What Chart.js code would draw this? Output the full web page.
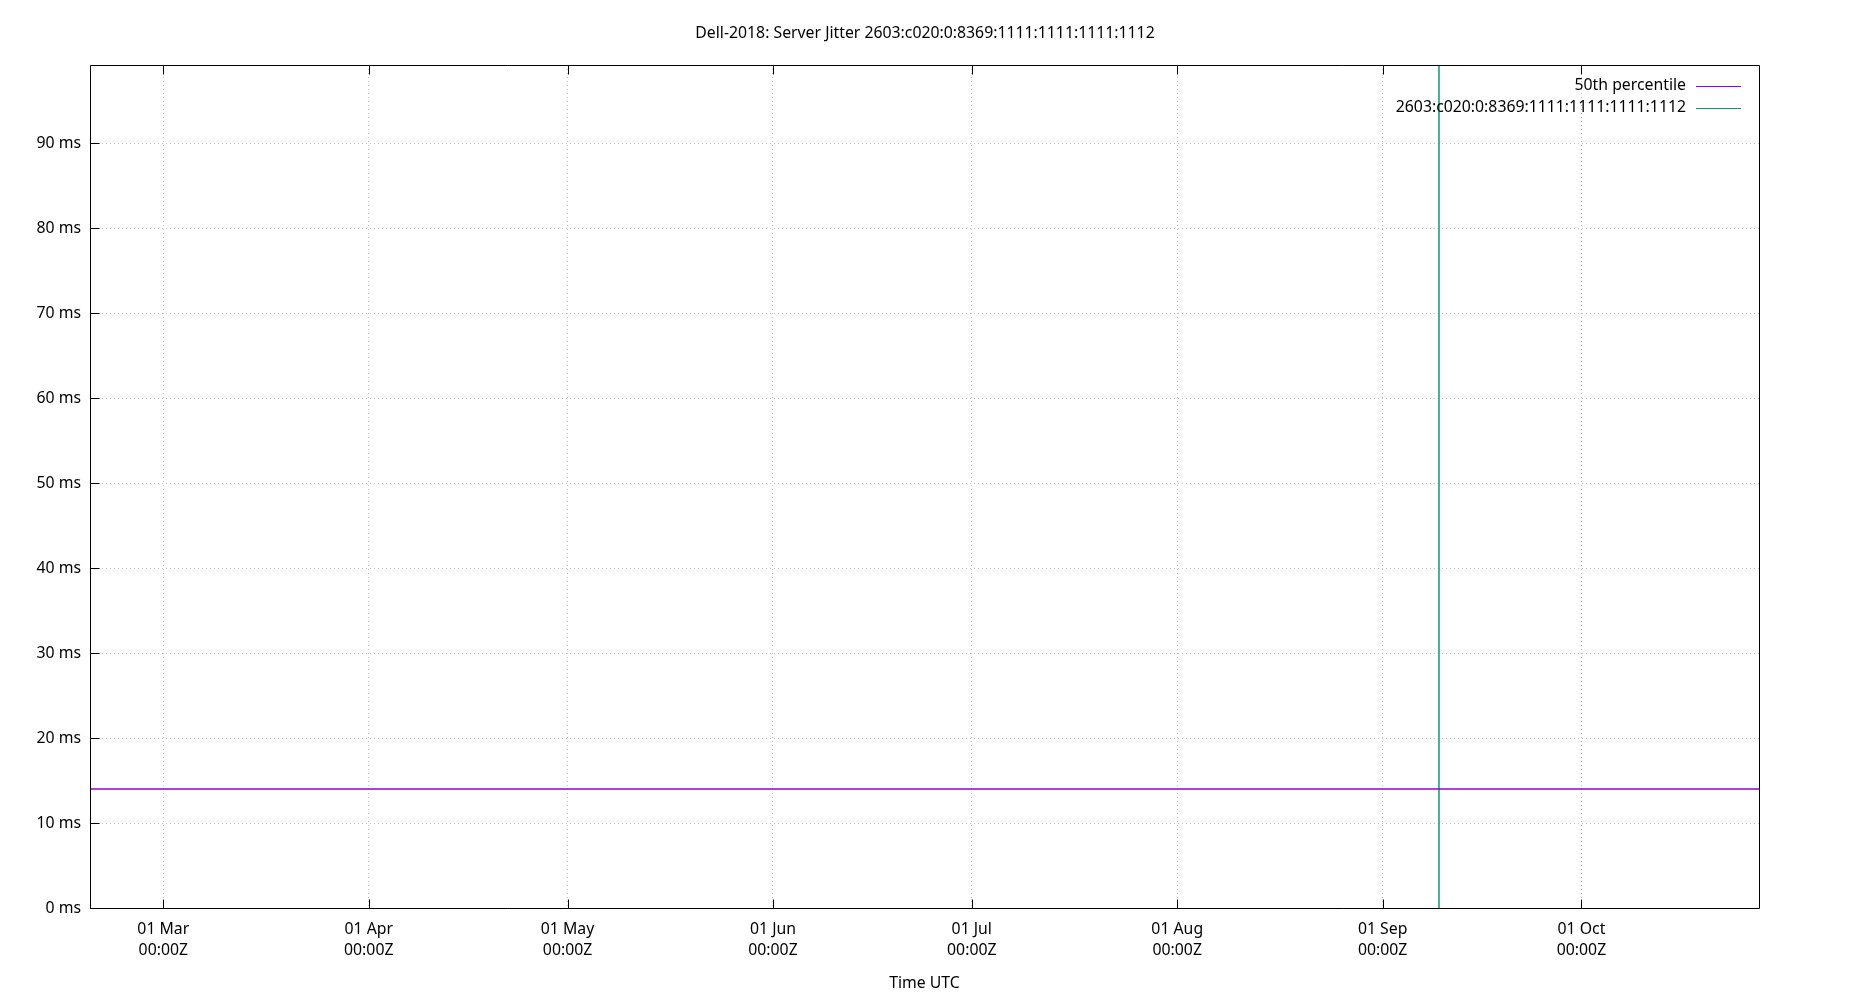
<!DOCTYPE html>
<html>
<head>
<meta charset="utf-8">
<script src="https://cdn.jsdelivr.net/npm/chart.js@4.4.1/dist/chart.umd.min.js"></script>
<style>
html,body{margin:0;padding:0;background:#ffffff;}
canvas{display:block;}
</style>
</head>
<body>
<canvas id="c" width="1850" height="1000"></canvas>
<script>
// ---------- data ----------
const chartTitle = 'Dell-2018: Server Jitter 2603:c020:0:8369:1111:1111:1111:1112';
const xAxisTitle = 'Time UTC';
const seriesNames = ['50th percentile', '2603:c020:0:8369:1111:1111:1111:1112'];
const seriesColors = ['#9400d3', '#009e73'];
const xRange = ['2018-02-17T22:30:00Z', '2018-10-27T19:00:00Z'];
const p50Times = ['2018-02-17T22:30:00Z', '2018-10-27T19:00:00Z'];
const p50Values = [14.0, 14.0];
const jitterTimes = ['2018-09-09T12:00:00Z', '2018-09-09T12:00:00Z'];
const jitterValues = [0, 99.2];
const xTickDates = ['2018-03-01T00:00:00Z','2018-04-01T00:00:00Z','2018-05-01T00:00:00Z','2018-06-01T00:00:00Z',
                    '2018-07-01T00:00:00Z','2018-08-01T00:00:00Z','2018-09-01T00:00:00Z','2018-10-01T00:00:00Z'];
const yTickValues = [0, 10, 20, 30, 40, 50, 60, 70, 80, 90];
const yMin = 0;
const yMax = 99.2;
const monthNames = ['Jan','Feb','Mar','Apr','May','Jun','Jul','Aug','Sep','Oct','Nov','Dec'];

// ---------- helpers ----------
const ts = s => Date.parse(s);
const pad2 = n => String(n).padStart(2, '0');
const xTicks = xTickDates.map(ts);
const toPoints = (times, vals) => times.map((t, i) => ({x: ts(t), y: vals[i]}));

const FONT = "'Noto Sans', 'DejaVu Sans', sans-serif";
const FS = 15.8;
const TICK_LEN = 9;

const framePlugin = {
  id: 'frame',
  afterDatasetsDraw(chart) {
    const {ctx, chartArea: a, scales} = chart;
    ctx.save();
    ctx.strokeStyle = '#000';
    ctx.lineWidth = 1;
    const L = Math.round(a.left) + 0.5, R = Math.round(a.right) + 0.5;
    const T = Math.round(a.top) + 0.5, B = Math.round(a.bottom) + 0.5;
    ctx.beginPath();
    ctx.rect(L, T, R - L, B - T);
    xTicks.forEach(v => {
      const px = Math.round(scales.x.getPixelForValue(v)) + 0.5;
      ctx.moveTo(px, B); ctx.lineTo(px, B - TICK_LEN);
      ctx.moveTo(px, T); ctx.lineTo(px, T + TICK_LEN);
    });
    yTickValues.forEach(v => {
      const py = Math.round(scales.y.getPixelForValue(v)) + 0.5;
      ctx.moveTo(L, py); ctx.lineTo(L + TICK_LEN, py);
    });
    ctx.stroke();
    ctx.restore();
  }
};

const keyPlugin = {
  id: 'gnuKey',
  afterDraw(chart) {
    const {ctx, chartArea: a} = chart;
    ctx.save();
    ctx.font = FS + 'px ' + FONT;
    ctx.textAlign = 'right';
    ctx.textBaseline = 'middle';
    chart.data.datasets.forEach((ds, i) => {
      const y = a.top + 21 + i * 22;
      ctx.fillStyle = '#000';
      ctx.fillText(ds.label, a.right - 73, y);
      ctx.strokeStyle = ds.borderColor;
      ctx.lineWidth = 1.2;
      ctx.beginPath();
      ctx.moveTo(a.right - 63, Math.round(y) + 0.5);
      ctx.lineTo(a.right - 18, Math.round(y) + 0.5);
      ctx.stroke();
    });
    ctx.restore();
  }
};

new Chart(document.getElementById('c'), {
  type: 'line',
  data: {
    datasets: [
      {
        label: seriesNames[0],
        data: toPoints(p50Times, p50Values),
        borderColor: seriesColors[0],
        backgroundColor: seriesColors[0],
        borderWidth: 1.6,
        pointRadius: 0,
        tension: 0
      },
      {
        label: seriesNames[1],
        data: toPoints(jitterTimes, jitterValues),
        borderColor: seriesColors[1],
        backgroundColor: seriesColors[1],
        borderWidth: 1.5,
        pointRadius: 0,
        tension: 0
      }
    ]
  },
  options: {
    responsive: false,
    devicePixelRatio: 1,
    animation: false,
    events: [],
    layout: {padding: 0},
    plugins: {
      legend: {display: false},
      tooltip: {enabled: false},
      title: {
        display: true,
        text: chartTitle,
        color: '#000',
        font: {family: FONT, size: FS, weight: 'normal', lineHeight: 1.2},
        padding: {top: 24.2, bottom: 21.8}
      }
    },
    scales: {
      x: {
        type: 'linear',
        min: ts(xRange[0]),
        max: ts(xRange[1]),
        afterBuildTicks: s => { s.ticks = xTicks.map(v => ({value: v})); },
        afterFit: s => { s.height = 92; },
        ticks: {
          autoSkip: false,
          maxRotation: 0,
          padding: 11.2,
          color: '#000',
          font: {family: FONT, size: FS, lineHeight: 1.33},
          callback: v => {
            const d = new Date(v);
            return [pad2(d.getUTCDate()) + ' ' + monthNames[d.getUTCMonth()],
                    pad2(d.getUTCHours()) + ':' + pad2(d.getUTCMinutes()) + 'Z'];
          }
        },
        grid: {color: '#c4c4c4', lineWidth: 1, drawTicks: false},
        border: {display: false, dash: [1, 3]},
        title: {
          display: true,
          text: xAxisTitle,
          color: '#000',
          font: {family: FONT, size: FS, lineHeight: 1.2},
          padding: {top: 0, bottom: 7}
        }
      },
      y: {
        type: 'linear',
        position: 'left',
        min: yMin,
        max: yMax,
        afterBuildTicks: s => { s.ticks = yTickValues.map(v => ({value: v})); },
        afterFit: s => { s.width = 90; },
        ticks: {
          autoSkip: false,
          padding: 9,
          color: '#000',
          font: {family: FONT, size: FS},
          callback: v => v + ' ms'
        },
        grid: {color: '#c4c4c4', lineWidth: 1, drawTicks: false},
        border: {display: false, dash: [1, 3]}
      },
      yRight: {
        type: 'linear',
        position: 'right',
        display: true,
        afterFit: s => { s.width = 91; },
        ticks: {display: false},
        grid: {display: false, drawTicks: false},
        border: {display: false}
      }
    }
  },
  plugins: [framePlugin, keyPlugin]
});
</script>
</body>
</html>
